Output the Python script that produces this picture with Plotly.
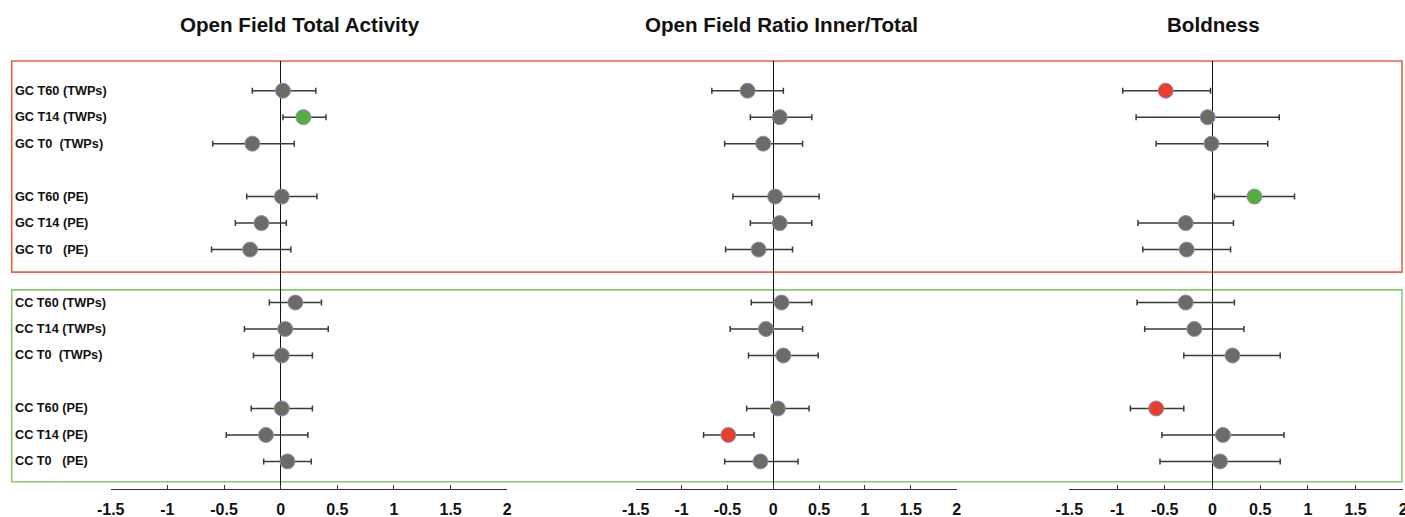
import plotly.graph_objects as go

# ---------------- data ----------------
row_labels = [
    "GC T60 (TWPs)", "GC T14 (TWPs)", "GC T0\u00a0\u00a0(TWPs)",
    "GC T60 (PE)", "GC T14 (PE)", "GC T0\u00a0\u00a0\u00a0(PE)",
    "CC T60 (TWPs)", "CC T14 (TWPs)", "CC T0\u00a0\u00a0(TWPs)",
    "CC T60 (PE)", "CC T14 (PE)", "CC T0\u00a0\u00a0\u00a0(PE)",
]
row_pos = [0, 1, 2, 4, 5, 6, 8, 9, 10, 12, 13, 14]

panel_titles = ["Open Field Total Activity", "Open Field Ratio Inner/Total", "Boldness"]

# Open Field Total Activity
act_mean = [0.02, 0.20, -0.25, 0.01, -0.17, -0.27, 0.13, 0.04, 0.01, 0.01, -0.13, 0.06]
act_low = [-0.25, 0.02, -0.60, -0.30, -0.40, -0.61, -0.10, -0.32, -0.24, -0.26, -0.48, -0.15]
act_high = [0.31, 0.40, 0.12, 0.32, 0.05, 0.09, 0.36, 0.42, 0.28, 0.28, 0.24, 0.27]
act_sig = ["", "+", "", "", "", "", "", "", "", "", "", ""]

# Open Field Ratio Inner/Total
ratio_mean = [-0.28, 0.07, -0.11, 0.02, 0.07, -0.16, 0.09, -0.08, 0.11, 0.05, -0.49, -0.14]
ratio_low = [-0.67, -0.25, -0.53, -0.44, -0.25, -0.52, -0.24, -0.47, -0.27, -0.29, -0.76, -0.53]
ratio_high = [0.11, 0.42, 0.32, 0.50, 0.42, 0.21, 0.42, 0.32, 0.49, 0.39, -0.21, 0.27]
ratio_sig = ["", "", "", "", "", "", "", "", "", "", "-", ""]

# Boldness
bold_mean = [-0.49, -0.05, -0.01, 0.44, -0.28, -0.27, -0.28, -0.19, 0.21, -0.59, 0.11, 0.08]
bold_low = [-0.94, -0.80, -0.59, 0.02, -0.78, -0.73, -0.79, -0.71, -0.30, -0.86, -0.53, -0.55]
bold_high = [-0.02, 0.70, 0.58, 0.86, 0.22, 0.19, 0.23, 0.33, 0.71, -0.30, 0.75, 0.71]
bold_sig = ["-", "", "", "+", "", "", "", "", "", "-", "", ""]

x_tickvals = [-1.5, -1, -0.5, 0, 0.5, 1, 1.5, 2]
x_ticktext = ["-1.5", "-1", "-0.5", "0", "0.5", "1", "1.5", "2"]

# ---------------- layout helpers ----------------
W, H = 1405, 517
PLOT_TOP, PLOT_BOT = 61, 489.3   # pixels of plot area
TOP = PLOT_TOP
BOTTOM = H - PLOT_BOT
PH = PLOT_BOT - PLOT_TOP
FONT = "Liberation Sans, Arial, sans-serif"
sig_colors = {"": "#6f6a66", "+": "#55ad3a", "-": "#e8412b"}


def px_x(x):
    return x / W


def px_y(y):
    return (PLOT_BOT - y) / PH


# row index -> pixel: 90.7 + 26.5*i
ROW0, ROWH = 90.7, 26.5
y_range = [(PLOT_BOT - ROW0) / ROWH, (PLOT_TOP - ROW0) / ROWH]

domains_px = [(110.7, 507.3), (635.7, 956.7), (1069.3, 1403.3)]
title_x_px = [300, 781, 1213]

panels = [
    (act_mean, act_low, act_high, act_sig),
    (ratio_mean, ratio_low, ratio_high, ratio_sig),
    (bold_mean, bold_low, bold_high, bold_sig),
]

fig = go.Figure()

for i, (m, lo, hi, sig) in enumerate(panels):
    sfx = "" if i == 0 else str(i + 1)
    fig.add_trace(go.Scatter(
        x=m, y=row_pos, mode="markers",
        xaxis="x" + sfx, yaxis="y" + sfx,
        marker=dict(size=15, color=[sig_colors[s] for s in sig],
                    line=dict(color="#8a90b8", width=1)),
        error_x=dict(type="data", symmetric=False,
                     array=[h - v for h, v in zip(hi, m)],
                     arrayminus=[v - l for v, l in zip(m, lo)],
                     color="#3a3a3a", thickness=1.5, width=3),
        showlegend=False, hoverinfo="x+y", cliponaxis=False,
    ))
    d0, d1 = domains_px[i]
    fig.layout["xaxis" + sfx] = dict(
        domain=[px_x(d0), px_x(d1)], range=[-1.5, 2], anchor="y" + sfx,
        tickvals=x_tickvals, ticktext=x_ticktext, automargin=False,
        ticklabeloverflow="allow",
        showline=True, linecolor="#333333", linewidth=1.3,
        ticks="inside", ticklen=4, tickcolor="#333333", tickwidth=1.3,
        showgrid=False, zeroline=True, zerolinecolor="#111111", zerolinewidth=1.3,
        tickfont=dict(family=FONT, size=16, color="#111111", weight="bold"),
        ticklabelstandoff=6,
    )
    fig.layout["yaxis" + sfx] = dict(
        domain=[0, 1], range=y_range, anchor="x" + sfx, automargin=False,
        showticklabels=False, showgrid=False, zeroline=False, showline=False,
        ticks="",
    )
    fig.add_annotation(
        text=panel_titles[i], xref="paper", yref="paper",
        x=px_x(title_x_px[i]), y=px_y(24),
        xanchor="center", yanchor="middle", showarrow=False,
        font=dict(family=FONT, size=20.6, color="#111111", weight="bold"),
    )

for lbl, p in zip(row_labels, row_pos):
    fig.add_annotation(
        text=lbl, xref="paper", yref="y", x=px_x(13), y=p,
        xanchor="left", yanchor="middle", showarrow=False,
        font=dict(family=FONT, size=12.7, color="#111111", weight="bold"),
    )

# group boxes
fig.add_shape(type="rect", xref="paper", yref="paper",
              x0=px_x(11.7), x1=px_x(1402), y0=px_y(272.3), y1=px_y(61),
              line=dict(color="#e8604a", width=1.6), layer="below")
fig.add_shape(type="rect", xref="paper", yref="paper",
              x0=px_x(11.7), x1=px_x(1402), y0=px_y(482), y1=px_y(290),
              line=dict(color="#8cc870", width=1.6), layer="below")

fig.update_layout(
    width=W, height=H,
    margin=dict(l=0, r=0, t=TOP, b=BOTTOM, autoexpand=False),
    plot_bgcolor="white", paper_bgcolor="white",
)

fig.write_html(
    "out.html",
    config={"displayModeBar": False},
    post_script="document.body.style.margin='0';document.body.style.overflow='hidden';",
)
